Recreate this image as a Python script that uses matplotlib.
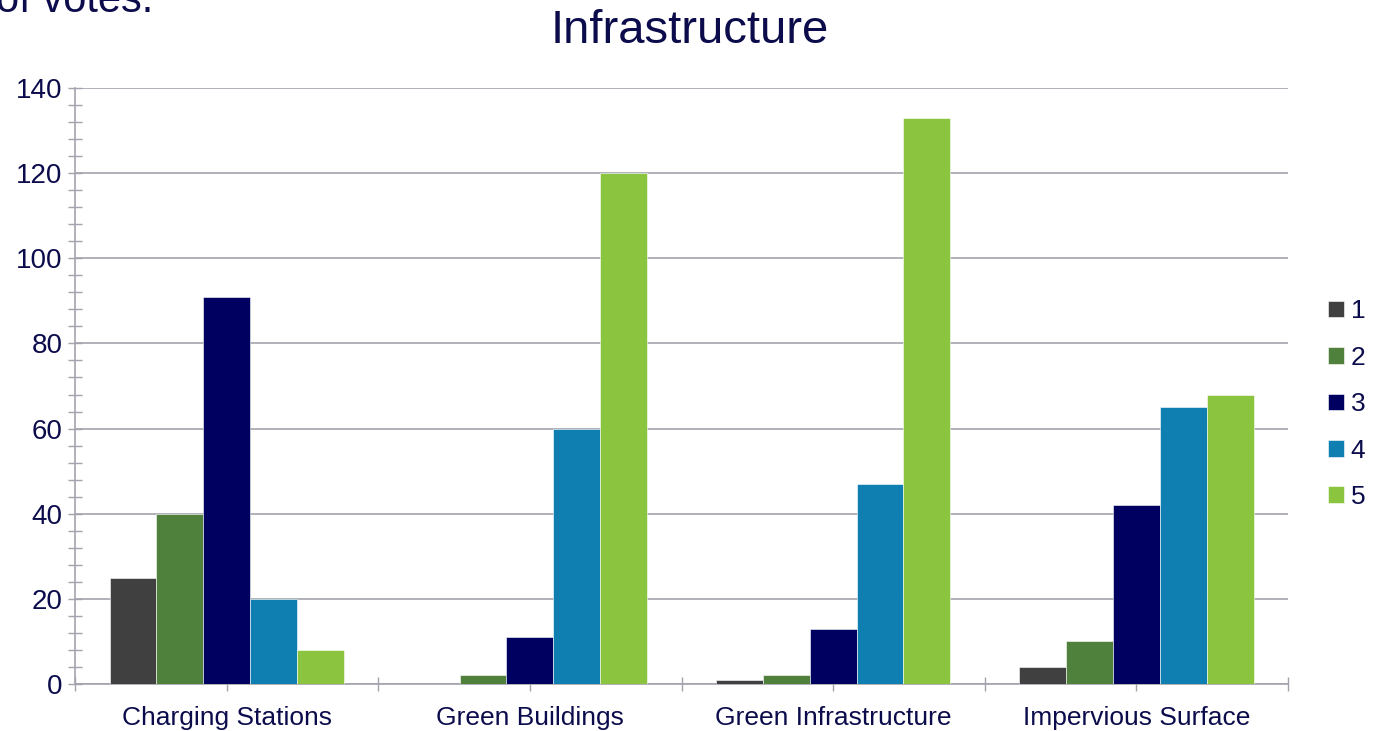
import numpy as np
import matplotlib.pyplot as plt
from matplotlib.ticker import MultipleLocator

plt.rcParams['font.family'] = ['Liberation Sans', 'DejaVu Sans']

categories = ['Charging Stations', 'Green Buildings', 'Green Infrastructure', 'Impervious Surface']
series_names = ['1', '2', '3', '4', '5']
votes_1 = [25, 0, 1, 4]
votes_2 = [40, 2, 2, 10]
votes_3 = [91, 11, 13, 42]
votes_4 = [20, 60, 47, 65]
votes_5 = [8, 120, 133, 68]

colors = ['#404040', '#4f813d', '#000060', '#0e7fb0', '#8bc43f']
text_color = '#0c0c4c'
grid_color = '#a3a3ad'

fig = plt.figure(figsize=(13.77, 7.31), dpi=100)
ax = fig.add_axes([0.0545, 0.0643, 0.8809, 0.8153])

series = [votes_1, votes_2, votes_3, votes_4, votes_5]
width = 0.1545
x = np.arange(len(categories)) + 0.5
for j, (name, vals) in enumerate(zip(series_names, series)):
    ax.bar(x + (j - 2) * width, vals, width, color=colors[j], label=name,
           edgecolor='white', linewidth=0.4, zorder=3)

ax.set_xlim(0, len(categories))
ax.set_ylim(0, 140)
ax.yaxis.set_major_locator(MultipleLocator(20))
ax.yaxis.set_minor_locator(MultipleLocator(4))
ax.set_xticks(np.arange(0, len(categories) + 0.01, 0.5))
ax.set_xticklabels(['' if i % 2 == 0 else categories[i // 2] for i in range(2 * len(categories) + 1)])

ax.grid(axis='y', color=grid_color, linewidth=1.2, zorder=0)
for s in ['top', 'right']:
    ax.spines[s].set_visible(False)
for s in ['left', 'bottom']:
    ax.spines[s].set_color(grid_color)
    ax.spines[s].set_linewidth(1.2)

ax.tick_params(axis='y', which='both', direction='inout', length=10, width=1,
               color=grid_color, labelsize=20, labelcolor=text_color, pad=4)
ax.tick_params(axis='x', which='both', direction='inout', length=10, width=1,
               color=grid_color, labelsize=19, labelcolor=text_color, pad=11)

fig.text(0.501, 0.958, 'Infrastructure', ha='center', va='center',
         fontsize=34, color=text_color)
# heading of the slide above, cut off at the top edge as in the source
fig.text(-0.003, 0.984, 'of votes.', ha='left', va='baseline',
         fontsize=30, color=text_color)

fig.legend(loc='center left', bbox_to_anchor=(0.957, 0.447), frameon=False,
           fontsize=19, labelcolor=text_color, handlelength=0.6, handleheight=0.6,
           handletextpad=0.25, labelspacing=0.85, borderaxespad=0)

fig.savefig('out.png', dpi=100)
